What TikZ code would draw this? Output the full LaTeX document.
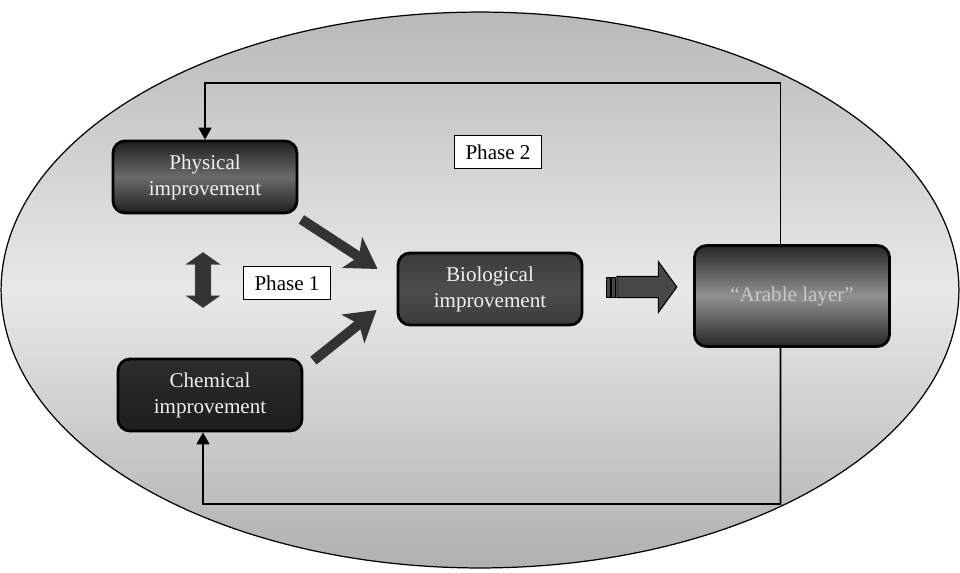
\documentclass[tikz,border=0pt]{standalone}
\usepackage{fontspec}
\setmainfont{Liberation Serif}
\usepackage{tikz}
\usetikzlibrary{arrows.meta, shapes.arrows, calc}
\definecolor{dk}{HTML}{333333}

\begin{document}
\begin{tikzpicture}[x=0.02cm, y=-0.02cm, font=\fontsize{12}{14.8}\selectfont,
	box/.style={draw=black, line width=1.6pt, rounded corners=0.24cm, minimum width=3.68cm, minimum height=1.44cm, align=center, text=white!94!black},
	lbl/.style={draw=black, fill=white, line width=0.5pt, minimum width=1.74cm, minimum height=0.66cm, inner sep=0pt},
	fb/.style={line width=0.9pt, -{Triangle[length=0.24cm, width=0.26cm]}},
	fat/.style={line width=0.2cm, draw=dk, -{Stealth[length=0.6cm, width=0.72cm, inset=0.15cm]}}]
					\useasboundingbox (0,0) rectangle (960,572);
					\draw[top color=gray!55, bottom color=gray!62, middle color=gray!18, line width=0.7pt] (480,290) ellipse [x radius=9.58cm, y radius=5.56cm];
					% boxes
					\node[box, top color=black!88, bottom color=black!88, middle color=black!58] (phy) at (205,177) {Physical\\improvement};
					\node[box, top color=black!82, bottom color=black!88, middle color=black!86] (chem) at (210,395) {Chemical\\improvement};
					\node[box, top color=black!77, bottom color=black!77, middle color=black!70] (bio) at (490,289) {Biological\\improvement};
					\node[box, minimum width=3.9cm, minimum height=2.02cm, top color=black!85, bottom color=black!85, middle color=black!43, text=black!22] (ar) at (792,296) {“Arable layer”};
					\node[lbl] (ph1) at (287,283) {Phase 1};
					\node[lbl] (ph2) at (498,152) {Phase 2};
					% block arrows
					\node[double arrow, fill=dk, draw=black!70, line width=0.3pt, rotate=90, minimum height=1.1cm, double arrow head extend=0.18cm, double arrow tip angle=110, inner sep=0.15cm] (dbl) at (203,280) {};
					\node[single arrow, fill=black!72, draw=black, line width=0.6pt, minimum height=1.2cm, single arrow head extend=0.3cm, single arrow tip angle=108, inner sep=0.2cm] (blk) at (643,287) {};
					\draw[fill=black!72, line width=0.5pt] ($(blk.west)+(-10,-10)$) rectangle +(4,20) ($(blk.west)+(-5,-10)$) rectangle +(4,20);
					% connectors
					\draw[fat] ([shift={(3,5)}]phy.south east) -- ([shift={(-19,-20)}]bio.west);
					\draw[fat] ([shift={(10,3)}]chem.north east) -- ([shift={(-20,21)}]bio.west);
					\coordinate (tl) at (205,83);
					\coordinate (bl) at (203,504);
					\draw[fb] ([xshift=-0.23cm]ar.north) |- (tl) -- (phy.north);
					\draw[fb] ([xshift=-0.23cm]ar.south) |- (bl) -- ([xshift=-0.14cm]chem.south);
				\end{tikzpicture}
\end{document}
